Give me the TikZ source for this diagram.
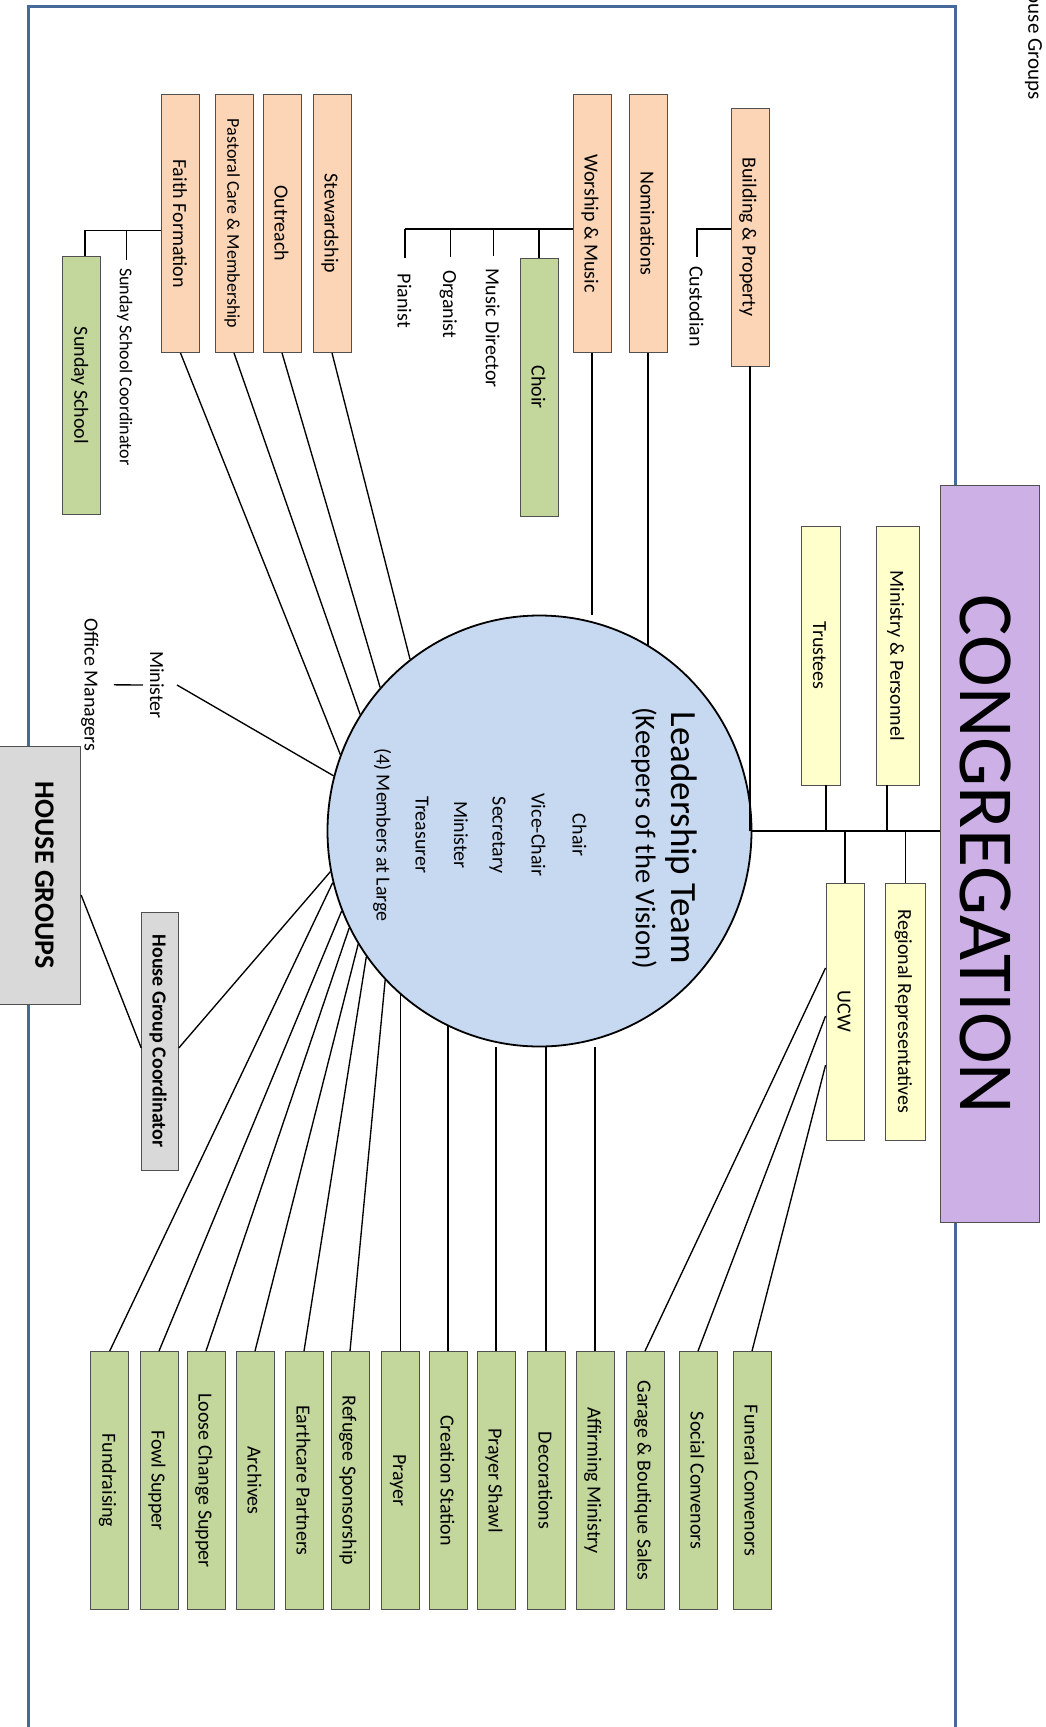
\documentclass[tikz,border=0pt]{standalone}
\usepackage{fontspec}
\setmainfont{Carlito}
\usepackage{graphicx}
\usetikzlibrary{shapes.geometric,calc}
\definecolor{peachc}{HTML}{FBD5B5}
\definecolor{greenc}{HTML}{C3D69B}
\definecolor{yellowc}{HTML}{FFFFCC}
\definecolor{purplec}{RGB}{204,176,230}
\definecolor{bluec}{HTML}{C6D9F1}
\definecolor{grayc}{HTML}{D9D9D9}
\definecolor{framec}{RGB}{70,104,155}
\definecolor{edgec}{RGB}{80,80,80}
\newcommand{\vstrut}{\rule[-0.15em]{0pt}{1.05em}}
\newcommand{\rt}[1]{\rotatebox{-90}{\vstrut #1}}
\newcommand{\fsz}[1]{\fontsize{#1}{#1}\selectfont}
\begin{document}
\begin{tikzpicture}[x=1pt,y=-1pt,
  box/.style={draw=edgec, line width=0.9pt, inner sep=0pt, minimum width=38pt, minimum height=258pt, font=\fsz{20}},
  pbox/.style={box, fill=peachc},
  gbox/.style={box, fill=greenc},
  ybox/.style={box, fill=yellowc},
  lbl/.style={inner sep=0pt, font=\fsz{20}},
  conn/.style={line width=1.35pt, black},
]
\useasboundingbox (0,0) rectangle (1046,1727);
\fill[white] (0,0) rectangle (1046,1727);
% frame
\draw[framec, line width=3pt] (28,6) rectangle (955.3,1800);
% partial text at top right
\node[lbl, font=\fsz{21}, anchor=south] (hgtxt) at (1036,100) {\rt{House Groups}};
% congregation
\node[draw=edgec, line width=1pt, fill=purplec, minimum width=99pt, minimum height=737pt, inner sep=0pt, font=\fsz{78}] (cong) at (989.5,854.4) {\rt{CONGREGATION}};
% yellow boxes
\node[ybox, minimum width=43pt, minimum height=258.5pt] (mp) at (897.8,655.7) {\rt{Ministry \& Personnel}};
\node[ybox, minimum width=38.6pt, minimum height=258.5pt] (tru) at (820.7,655.7) {\rt{Trustees}};
\node[ybox, minimum width=39.4pt, minimum height=257pt] (rr) at (905.3,1011.5) {\rt{Regional Representatives}};
\node[ybox, minimum width=38pt, minimum height=257pt] (ucw) at (845,1011.5) {\rt{UCW}};
% leadership circle
\node[ellipse, draw=black, line width=1.8pt, fill=bluec, minimum width=424pt, minimum height=431pt, inner sep=0pt] (lead) at (539.5,831) {};
\node[lbl, font=\fsz{37}] (lt) at (685.2,838) {\rt{Leadership Team}};
\node[lbl, font=\fsz{28.5}] (kv) at (646.3,838) {\rt{(Keepers of the Vision)}};
\node[lbl] (chair) at (580,835) {\rt{Chair}};
\node[lbl] (vchair) at (539,835) {\rt{Vice-Chair}};
\node[lbl] (sec) at (500,835) {\rt{Secretary}};
\node[lbl] (mins) at (461.5,835) {\rt{Minister}};
\node[lbl] (treas) at (423,835) {\rt{Treasurer}};
\node[lbl] (mal) at (384,835) {\rt{(4) Members at Large}};
% top boxes
\node[pbox] (bp) at (750,237) {\rt{Building \& Property}};
\node[pbox] (nom) at (648,223.5) {\rt{Nominations}};
\node[pbox] (wm) at (592,223.5) {\rt{Worship \& Music}};
\node[pbox] (stew) at (332,223.5) {\rt{Stewardship}};
\node[pbox] (out) at (282,223.5) {\rt{Outreach}};
\node[pbox, font=\fsz{18}] (pc) at (234,223.5) {\rt{Pastoral Care \& Membership}};
\node[pbox] (ff) at (180.5,223.5) {\rt{Faith Formation}};
\node[gbox] (choir) at (539,387) {\rt{Choir}};
\node[gbox] (ss) at (81.7,385.5) {\rt{Sunday School}};
% free labels
\node[lbl] (cust) at (697,306.5) {\rt{Custodian}};
\node[lbl] (md) at (493.3,328.3) {\rt{Music Director}};
\node[lbl] (org) at (450.3,304) {\rt{Organist}};
\node[lbl] (pian) at (405,300.8) {\rt{Pianist}};
\node[lbl, font=\fsz{18}] (ssc) at (126.5,366.8) {\rt{Sunday School Coordinator}};
\node[lbl] (minx) at (157.5,685) {\rt{Minister}};
\node[lbl] (offm) at (92,684.8) {\rt{Office Managers}};
% house groups
\node[draw=edgec, line width=0.9pt, fill=grayc, minimum width=82pt, minimum height=258.6pt, inner sep=0pt] (hg) at (39.7,875.3) {};
\node[lbl, font=\bfseries\fsz{28}] (hgl) at (45.8,875.3) {\rt{HOUSE GROUPS}};
\node[box, fill=grayc, minimum width=36.6pt, font=\bfseries\fsz{20}] (hgc) at (160,1041) {\rt{House Group Coordinator}};
% bottom boxes
\node[gbox] (fund) at (109.7,1480.5) {\rt{Fundraising}};
\node[gbox] (fowl) at (159,1480.5) {\rt{Fowl Supper}};
\node[gbox] (loose) at (206,1480.5) {\rt{Loose Change Supper}};
\node[gbox] (arch) at (255,1480.5) {\rt{Archives}};
\node[gbox] (earth) at (304,1480.5) {\rt{Earthcare Partners}};
\node[gbox] (refu) at (350,1480.5) {\rt{Refugee Sponsorship}};
\node[gbox] (pray) at (400.5,1480.5) {\rt{Prayer}};
\node[gbox] (crea) at (448,1480.5) {\rt{Creation Station}};
\node[gbox] (shawl) at (496,1480.5) {\rt{Prayer Shawl}};
\node[gbox] (deco) at (546,1480.5) {\rt{Decorations}};
\node[gbox] (affi) at (595,1480.5) {\rt{Affirming Ministry}};
\node[gbox] (gar) at (645,1480.5) {\rt{Garage \& Boutique Sales}};
\node[gbox] (soc) at (698,1480.5) {\rt{Social Convenors}};
\node[gbox] (fun) at (752,1480.5) {\rt{Funeral Convenors}};
% connectors: congregation spine
\draw[conn] (lead.east) -- (cong.west |- lead.east);
\draw[conn] (bp.south) -- (bp.south |- lead.east);
\coordinate (trd) at ([xshift=5.3pt]tru.south);
\coordinate (mpd) at ([xshift=-10.8pt]mp.south);
\draw[conn] (trd) -- (trd |- lead.east);
\draw[conn] (mpd) -- (mpd |- lead.east);
\draw[conn] (ucw.north) -- (ucw.north |- lead.east);
\draw[conn] (rr.north) -- (rr.north |- lead.east);
% top connectors
\draw[conn] (nom.south) -- (nom.south |- lead.59.65);
\draw[conn] (wm.south) -- (wm.south |- lead.north);
\draw[conn] (stew.south) -- (lead.127.5);
\draw[conn] (out.south) -- (lead.138.4);
\draw[conn] (pc.south) -- (lead.147.8);
\draw[conn] (ff.south) -- (lead.159.1);
\draw[conn] ([xshift=8.8pt]minx.east) -- (lead.165);
\draw[conn] ([xshift=11pt]offm.east) -- ([xshift=-3.8pt]minx.west);
% custodian
\draw[conn] ($(bp.north west)!0.469!(bp.south west)$) -| ([yshift=9pt]cust.north);
% worship bus
\coordinate (wmb) at ($(wm.north west)!0.5206!(wm.south west)$);
\draw[conn] (wmb) -- (pian.north |- wmb);
\draw[conn] (pian.north |- wmb) -- ([yshift=15.4pt]pian.north);
\draw[conn] (org.north |- wmb) -- ([yshift=12.9pt]org.north);
\draw[conn] (md.north |- wmb) -- ([yshift=12.6pt]md.north);
\draw[conn] (choir.north |- wmb) -- (choir.north);
% faith formation bus
\coordinate (ffb) at ($(ff.north west)!0.528!(ff.south west)$);
\coordinate (ssd) at ([xshift=3.3pt]ss.north);
\draw[conn] (ffb) -| (ssd);
\draw[conn] (ssc.north |- ffb) -- ([yshift=8.2pt]ssc.north);
% house groups
\draw[conn] ($(hg.north east)!0.576!(hg.south east)$) -- ($(hgc.north west)!0.527!(hgc.south west)$);
\draw[conn] ($(hgc.north east)!0.527!(hgc.south east)$) -- (lead.191.4);
% bottom connectors
\draw[conn] (fund.north) -- (lead.194.8);
\draw[conn] (fowl.north) -- (lead.202);
\draw[conn] (loose.north) -- (lead.207.8);
\draw[conn] (arch.north) -- (lead.212);
\draw[conn] (earth.north) -- (lead.216.3);
\draw[conn] (refu.north) -- (lead.224.1);
\draw[conn] (pray.north) -- (pray.north |- lead.229.1);
\draw[conn] (crea.north) -- (crea.north |- lead.244.3);
\draw[conn] (shawl.north) -- (shawl.north |- lead.south);
\draw[conn] (deco.north) -- (deco.north |- lead.south);
\draw[conn] (affi.north) -- (affi.north |- lead.south);
\draw[conn] (gar.north) -- ($(ucw.north west)!0.331!(ucw.south west)$);
\draw[conn] (soc.north) -- ($(ucw.north west)!0.5175!(ucw.south west)$);
\draw[conn] (fun.north) -- ($(ucw.north west)!0.708!(ucw.south west)$);
\end{tikzpicture}
\end{document}
